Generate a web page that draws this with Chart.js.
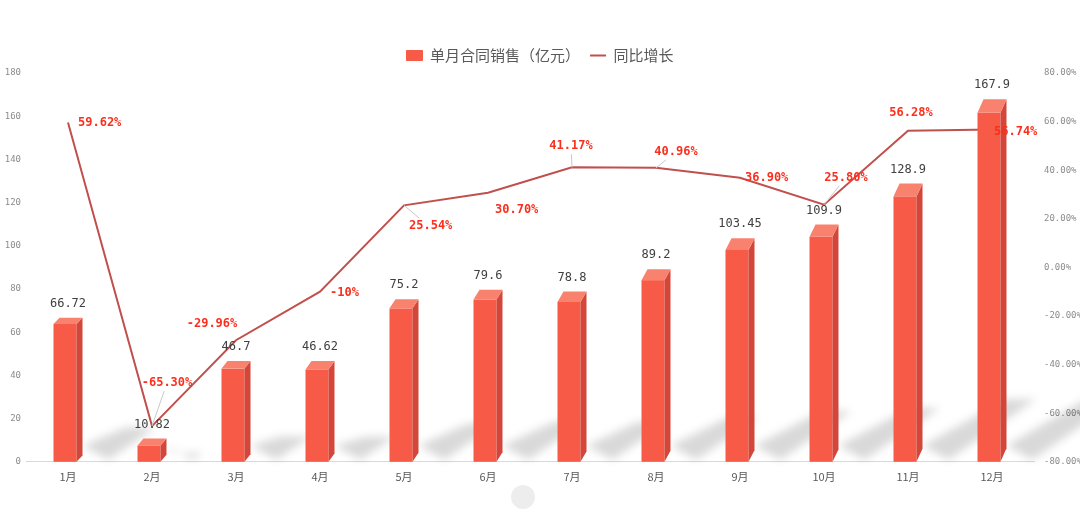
<!DOCTYPE html>
<html>
<head>
<meta charset="utf-8">
<script src="https://cdn.jsdelivr.net/npm/chart.js@4.4.0/dist/chart.umd.min.js"></script>
<style>
  html, body { margin: 0; padding: 0; background: #fff; }
  #wrap { width: 1080px; height: 521px; position: relative; }
</style>
</head>
<body>
<div id="wrap"><canvas id="chart" width="1080" height="521"></canvas></div>
<script>
const months = ['1月', '2月', '3月', '4月', '5月', '6月', '7月', '8月', '9月', '10月', '11月', '12月'];
const salesValues = [66.72, 10.82, 46.7, 46.62, 75.2, 79.6, 78.8, 89.2, 103.45, 109.9, 128.9, 167.9];
const yoyValues = [59.62, -65.30, -29.96, -10, 25.54, 30.70, 41.17, 40.96, 36.90, 25.80, 56.28, 56.74];
const yoyLabels = ['59.62%', '-65.30%', '-29.96%', '-10%', '25.54%', '30.70%', '41.17%', '40.96%', '36.90%', '25.80%', '56.28%', '56.74%'];
const leftTicks = [0, 20, 40, 60, 80, 100, 120, 140, 160, 180];
const rightTicks = [-80, -60, -40, -20, 0, 20, 40, 60, 80];

const barColor = '#f75a46';
const sideColor = '#d3473a';
const topColor = '#f9826f';
const lineColor = '#c0504d';

// where each % label sits relative to its point: [dx, dy, align, leader line]
const pctPlace = [
    [10, 0, 'left', false],
    [15, -43, 'center', true],
    [-24, -16, 'center', false],
    [10, 1, 'left', false],
    [5, 21, 'left', true],
    [7, 17, 'left', false],
    [-1, -21, 'center', true],
    [20, -16, 'center', true],
    [5, 0, 'left', false],
    [22, -27, 'center', true],
    [3, -18, 'center', false],
    [2, 2, 'left', false]
];

function depthAt(chart, x) {
    const area = chart.chartArea;
    return 6 + 8 * (x - area.left) / (area.right - area.left);
}

const bar3d = {
    id: 'bar3d',
    beforeDatasetsDraw(chart) {
        // floor shadows
        const meta = chart.getDatasetMeta(0);
        const ctx = chart.ctx;
        ctx.save();
        ctx.filter = 'blur(4px)';
        ctx.fillStyle = 'rgba(0,0,0,0.15)';
        meta.data.forEach(function (bar) {
            const h = bar.base - bar.y;
            const xr = bar.x + bar.width / 2 - 3 + 6;
            const tx = xr + 0.3 * h;
            const ty = bar.base - 0.21 * h - 4;
            ctx.beginPath();
            ctx.moveTo(xr, bar.base - 16);
            ctx.lineTo(tx, ty);
            ctx.lineTo(tx + 30, ty);
            ctx.lineTo(xr + 26, bar.base - 2);
            ctx.closePath();
            ctx.fill();
        });
        ctx.restore();
    },
    beforeDatasetDraw(chart, args) {
        if (args.index !== 0) return;
        const meta = chart.getDatasetMeta(0);
        const ctx = chart.ctx;
        const s = 6;
        ctx.save();
        meta.data.forEach(function (bar) {
            const d = depthAt(chart, bar.x);
            const left = bar.x - bar.width / 2 - 3;
            const right = left + bar.width;
            const topFront = Math.min(bar.y + d, bar.base);
            const base = bar.base;
            // front
            ctx.fillStyle = barColor;
            ctx.fillRect(left, topFront, bar.width, base - topFront);
            // side
            ctx.fillStyle = sideColor;
            ctx.beginPath();
            ctx.moveTo(right, topFront);
            ctx.lineTo(right + s, topFront - d);
            ctx.lineTo(right + s, base - d);
            ctx.lineTo(right, base);
            ctx.closePath();
            ctx.fill();
            // top
            ctx.fillStyle = topColor;
            ctx.beginPath();
            ctx.moveTo(left, topFront);
            ctx.lineTo(left + s, topFront - d);
            ctx.lineTo(right + s, topFront - d);
            ctx.lineTo(right, topFront);
            ctx.closePath();
            ctx.fill();
        });
        ctx.restore();
        return false;
    },
    afterDatasetsDraw(chart) {
        const ctx = chart.ctx;
        ctx.save();
        // bar values
        ctx.font = '12px "DejaVu Sans Mono"';
        ctx.fillStyle = '#404040';
        ctx.textAlign = 'center';
        ctx.textBaseline = 'middle';
        chart.getDatasetMeta(0).data.forEach(function (bar, i) {
            ctx.fillText(String(salesValues[i]), bar.x, bar.y - 14);
        });
        // growth labels
        ctx.font = 'bold 12px "DejaVu Sans Mono"';
        chart.getDatasetMeta(1).data.forEach(function (pt, i) {
            const p = pctPlace[i];
            const lx = pt.x + p[0];
            const ly = pt.y + p[1];
            if (p[3]) {
                const ey = ly + (p[1] < 0 ? 8 : -8);
                const t = (ey - pt.y) / (ly - pt.y);
                const cx = p[2] === 'left' ? lx + 20 : lx;
                ctx.strokeStyle = '#c8c8c8';
                ctx.lineWidth = 1;
                ctx.beginPath();
                ctx.moveTo(pt.x, pt.y);
                ctx.lineTo(pt.x + t * (cx - pt.x), ey);
                ctx.stroke();
            }
            ctx.fillStyle = '#fa2f1d';
            ctx.textAlign = p[2];
            ctx.fillText(yoyLabels[i], lx, ly);
        });
        // watermark
        ctx.fillStyle = 'rgba(0,0,0,0.07)';
        ctx.beginPath();
        ctx.arc(523, 497, 12, 0, Math.PI * 2);
        ctx.fill();
        ctx.restore();
    }
};

const chart = new Chart(document.getElementById('chart').getContext('2d'), {
    data: {
        labels: months,
        datasets: [{
            type: 'bar',
            label: '单月合同销售（亿元）',
            data: salesValues,
            backgroundColor: barColor,
            yAxisID: 'y',
            barThickness: 23,
            order: 1
        }, {
            type: 'line',
            label: '同比增长',
            data: yoyValues,
            borderColor: lineColor,
            backgroundColor: lineColor,
            borderWidth: 2,
            pointRadius: 0,
            tension: 0,
            yAxisID: 'y1',
            order: 2
        }]
    },
    options: {
        responsive: false,
        animation: false,
        layout: { padding: { top: 38, bottom: 38, left: 0, right: 0 } },
        plugins: {
            tooltip: { enabled: false },
            legend: {
                position: 'top',
                labels: {
                    font: { family: '"Noto Sans CJK SC"', size: 15 },
                    color: '#595959',
                    usePointStyle: true,
                    boxHeight: 10,
                    pointStyleWidth: 16,
                    padding: 10,
                    generateLabels: function () {
                        return [
                            { text: '单月合同销售（亿元）', fillStyle: barColor, strokeStyle: barColor, lineWidth: 1, pointStyle: 'rect', datasetIndex: 0, hidden: false, fontColor: '#595959' },
                            { text: '同比增长', fillStyle: lineColor, strokeStyle: lineColor, lineWidth: 2, pointStyle: 'line', datasetIndex: 1, hidden: false, fontColor: '#595959' }
                        ];
                    }
                }
            }
        },
        scales: {
            x: {
                grid: { display: false },
                border: { display: true, color: '#d9d9d9' },
                ticks: { font: { family: '"Noto Sans CJK SC"', size: 11 }, color: '#595959', padding: 0 }
            },
            y: {
                position: 'left',
                min: 0,
                max: 180,
                grid: { display: false, drawTicks: false },
                border: { display: false },
                afterBuildTicks: function (axis) { axis.ticks = leftTicks.map(function (v) { return { value: v }; }); },
                afterFit: function (axis) { axis.width = 26; },
                ticks: { font: { family: '"DejaVu Sans Mono"', size: 9 }, color: '#8c8c8c', padding: 5 }
            },
            y1: {
                position: 'right',
                min: -80,
                max: 80,
                grid: { display: false, drawTicks: false },
                border: { display: false },
                afterBuildTicks: function (axis) { axis.ticks = rightTicks.map(function (v) { return { value: v }; }); },
                afterFit: function (axis) { axis.width = 46; },
                ticks: {
                    font: { family: '"DejaVu Sans Mono"', size: 9 },
                    color: '#8c8c8c',
                    padding: 10,
                    callback: function (v) { return v.toFixed(2) + '%'; }
                }
            }
        }
    },
    plugins: [bar3d]
});
</script>
</body>
</html>
